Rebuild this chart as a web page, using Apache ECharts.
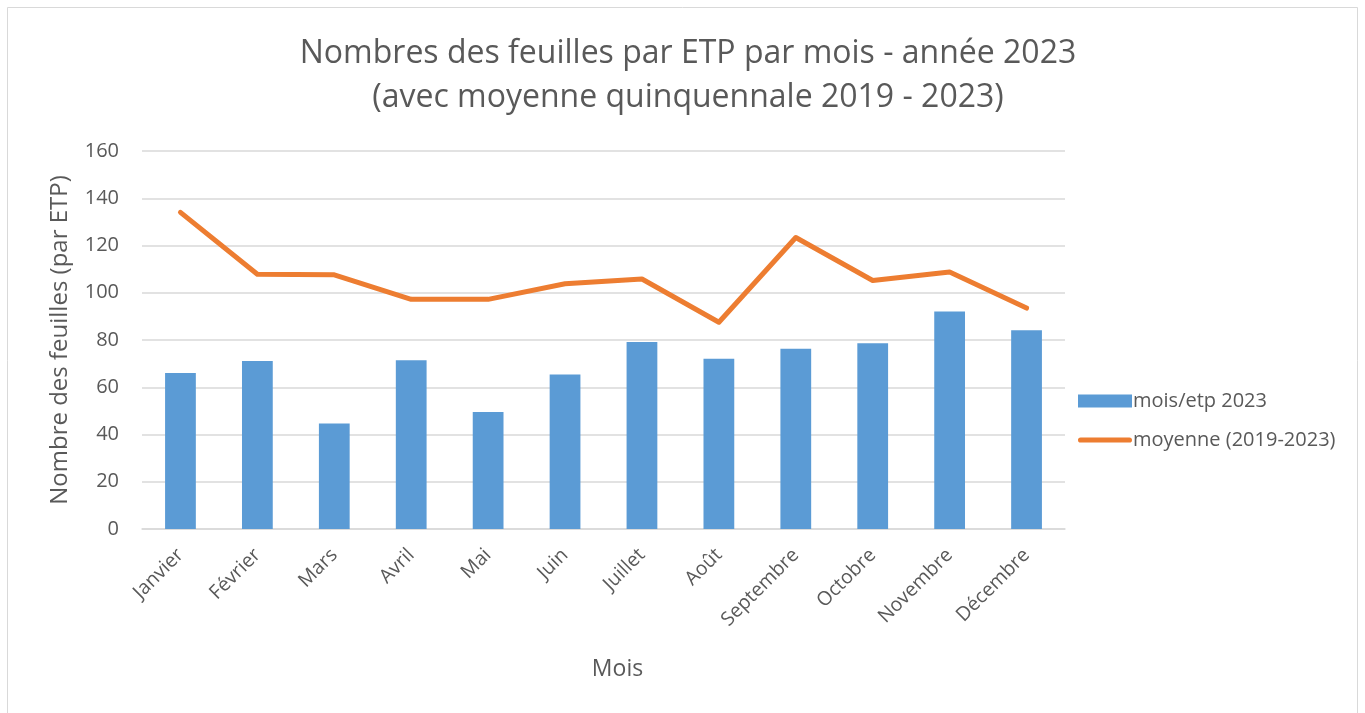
<!DOCTYPE html>
<html>
<head>
<meta charset="utf-8">
<script src="https://cdn.jsdelivr.net/npm/echarts@6/dist/echarts.min.js"></script>
<style>
  html, body { margin: 0; padding: 0; background: #fff; }
  #main { width: 1365px; height: 713px; }
</style>
</head>
<body>
<div id="main"></div>
<script>
// mois
var mois = ['Janvier', 'Février', 'Mars', 'Avril', 'Mai', 'Juin', 'Juillet', 'Août', 'Septembre', 'Octobre', 'Novembre', 'Décembre'];
// feuilles par ETP, 2023
var etp2023 = [66.0, 71.1, 44.7, 71.4, 49.5, 65.4, 79.2, 72.1, 76.3, 78.6, 92.1, 84.1];
// moyenne 2019-2023
var moyenne = [134.0, 107.8, 107.6, 97.2, 97.2, 103.8, 105.8, 87.5, 123.4, 105.2, 108.8, 93.5];

var yTicks = [0, 20, 40, 60, 80, 100, 120, 140, 160];

var chart = echarts.init(document.getElementById('main'));
var font = '"Open Sans", "Liberation Sans", sans-serif';
var grey = '#595959';

// icone de legende pour la ligne (trait arrondi)
var lineIcon = 'path://M2.5,0 L49.5,0 A2.5,2.5 0 0 1 49.5,5 L2.5,5 A2.5,2.5 0 0 1 2.5,0 Z';

var option = {
  backgroundColor: '#fff',
  textStyle: { fontFamily: font },
  title: {
    text: 'Nombres des feuilles par ETP par mois - année 2023\n(avec moyenne quinquennale 2019 - 2023)',
    left: 683,
    textAlign: 'center',
    top: 27,
    textStyle: { fontFamily: font, fontSize: 32, fontWeight: 'normal', color: grey, lineHeight: 44, align: 'center' }
  },
  graphic: [{
    type: 'rect',
    shape: { x: 7.5, y: 7.5, width: 1350, height: 720 },
    style: { fill: 'none', stroke: '#d9d9d9', lineWidth: 1 },
    silent: true
  }],
  legend: {
    orient: 'vertical',
    left: 1073,
    top: 386,
    itemWidth: 54,
    itemHeight: 13,
    itemGap: 19,
    textStyle: { fontFamily: font, fontSize: 20, color: grey, padding: [0, 0, 0, -4] },
    data: [
      { name: 'mois/etp 2023', icon: 'rect' },
      { name: 'moyenne (2019-2023)', icon: lineIcon }
    ]
  },
  grid: { left: 142, right: 300, top: 151, bottom: 184, containLabel: false },
  xAxis: {
    type: 'category',
    data: mois,
    name: 'Mois',
    nameLocation: 'middle',
    nameGap: 129,
    nameTextStyle: { fontFamily: font, fontSize: 23, color: grey, padding: [0, 0, 0, 28] },
    axisLine: { lineStyle: { color: '#d9d9d9', width: 1.5 } },
    axisTick: { show: false },
    axisLabel: { rotate: 45, fontSize: 19.5, color: grey, margin: 23, interval: 0 }
  },
  yAxis: {
    type: 'value',
    min: yTicks[0],
    max: yTicks[yTicks.length - 1],
    interval: 20,
    name: 'Nombre des feuilles (par ETP)',
    nameLocation: 'middle',
    nameGap: 70,
    nameTextStyle: { fontFamily: font, fontSize: 24, color: grey },
    axisLine: { show: false },
    axisTick: { show: false },
    axisLabel: { fontSize: 20, color: grey, margin: 23 },
    splitLine: { lineStyle: { color: '#d9d9d9', width: 1.5 } }
  },
  series: [
    {
      name: 'mois/etp 2023',
      type: 'bar',
      data: etp2023,
      barWidth: '40%',
      itemStyle: { color: '#5b9bd5' },
      z: 2
    },
    {
      name: 'moyenne (2019-2023)',
      type: 'line',
      data: moyenne,
      symbol: 'none',
      lineStyle: { color: '#ed7d31', width: 5, cap: 'round', join: 'round' },
      itemStyle: { color: '#ed7d31' },
      z: 3
    }
  ]
};

option && chart.setOption(option);
</script>
</body>
</html>
